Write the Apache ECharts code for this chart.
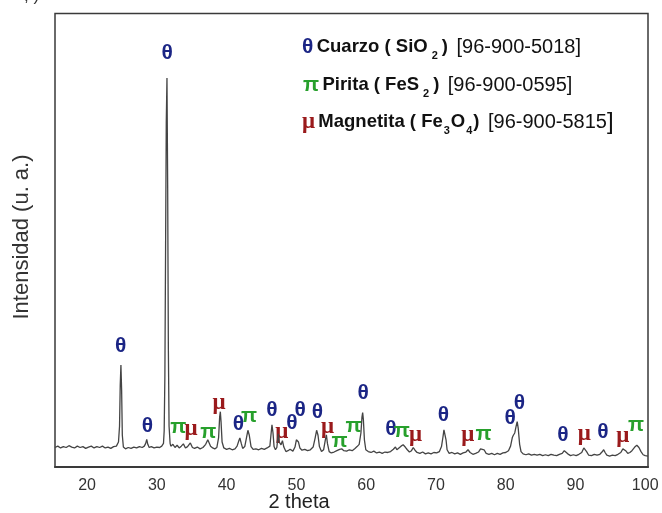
<!DOCTYPE html>
<html>
<head>
<meta charset="utf-8">
<script src="https://cdn.jsdelivr.net/npm/echarts@6/dist/echarts.min.js"></script>
<style>
    html, body { margin: 0; padding: 0; background: #fff; }
    #chart { width: 662px; height: 513px; }
</style>
</head>
<body>
<div id="chart"></div>
<script>
// 2 theta values of the trace
const twoTheta = [
    15.4, 15.8, 16.2, 16.6, 17.0, 17.4, 17.8, 18.2, 18.6, 19.0, 19.4, 19.8, 20.2, 20.6, 21.0, 21.4, 21.8, 22.2, 22.6, 23.0, 23.4, 23.8, 24.2,
    24.5, 24.65, 24.75, 24.85, 24.95, 25.05, 25.2, 25.5, 25.9, 26.3, 26.7, 27.1, 27.5, 27.9, 28.2, 28.4, 28.55, 28.7, 28.9, 29.2, 29.6, 30.0, 30.4, 30.7,
    30.95, 31.05, 31.15, 31.25, 31.35, 31.45, 31.55, 31.65, 31.75, 31.9, 32.0, 32.3, 32.6, 32.9, 33.2, 33.5, 33.8, 34.1, 34.4, 34.8, 35.1, 35.4, 35.8, 36.2, 36.6,
    37.0, 37.3, 37.5, 37.7, 38.0, 38.3, 38.6, 38.85, 39.0, 39.1, 39.2, 39.35, 39.6, 40.0, 40.4, 40.8, 41.2, 41.5, 41.75, 41.9, 42.1, 42.3, 42.6, 42.85, 43.05, 43.25, 43.5,
    43.8, 44.2, 44.6, 45.0, 45.4, 45.8, 46.2, 46.35, 46.5, 46.65, 46.8, 47.0, 47.2, 47.4, 47.55, 47.8, 48.0, 48.2, 48.5, 48.8, 49.1, 49.5, 49.8, 50.0, 50.15, 50.3, 50.5,
    50.8, 51.2, 51.6, 52.0, 52.4, 52.7, 52.9, 53.1, 53.3, 53.6, 53.9, 54.15, 54.3, 54.45, 54.7, 55.0, 55.4, 55.8, 56.2, 56.5, 56.8, 57.2, 57.6, 58.0, 58.4, 58.7, 59.0,
    59.25, 59.4, 59.5, 59.6, 59.75, 59.95, 60.3, 60.7, 61.1, 61.5, 61.9, 62.3, 62.7, 63.1, 63.5, 63.9, 64.2, 64.4, 64.7, 65.0, 65.3, 65.6, 65.9, 66.2, 66.5, 66.75, 67.0,
    67.3, 67.7, 68.1, 68.5, 68.9, 69.3, 69.7, 70.1, 70.5, 70.8, 71.0, 71.15, 71.3, 71.45, 71.6, 71.9, 72.3, 72.7, 73.1, 73.5, 73.9, 74.3, 74.6, 74.9, 75.3, 75.7, 76.1,
    76.4, 76.65, 76.9, 77.2, 77.6, 78.0, 78.4, 78.8, 79.2, 79.6, 80.0, 80.4, 80.7, 80.95, 81.1, 81.3, 81.5, 81.65, 81.8, 82.0, 82.2, 82.5, 82.9, 83.3, 83.7, 84.1, 84.5,
    84.9, 85.3, 85.7, 86.1, 86.5, 86.9, 87.3, 87.7, 88.1, 88.4, 88.6, 88.9, 89.3, 89.7, 90.1, 90.5, 90.9, 91.2, 91.4, 91.6, 91.9, 92.3, 92.7, 93.1, 93.5, 93.8, 94.05,
    94.25, 94.5, 94.9, 95.3, 95.7, 96.1, 96.5, 96.8, 97.0, 97.2, 97.5, 97.8, 98.1, 98.5, 98.8, 99.1, 99.4, 99.7, 100.0, 100.4
];
// intensity (arbitrary units, 0-100 of the plot height)
const intensity = [
    4.3, 4.6, 4.2, 4.5, 4.3, 4.7, 4.4, 4.2, 4.6, 4.3, 4.5, 4.1, 4.4, 4.6, 4.2, 4.5, 4.3, 4.6, 4.2, 4.4, 4.1, 4.5, 4.6,
    5.5, 9, 18, 22.5, 17, 7, 4.4, 4.0, 4.3, 4.1, 4.4, 4.2, 4.5, 4.3, 4.6, 5.2, 6.1, 5.0, 4.3, 4.5, 4.2, 4.4, 4.3, 4.6,
    5.2, 8, 20, 48, 76, 85.8, 62, 26, 9, 5.2, 4.6, 5.0, 4.3, 4.8, 4.2, 4.6, 5.1, 4.2, 4.5, 5.3, 4.3, 4.1, 4.4, 4.0, 4.3,
    5.0, 6.0, 5.8, 4.6, 4.2, 4.0, 4.3, 6.5, 11, 12.2, 10, 5.5, 4.2, 3.9, 4.1, 3.8, 4.0, 4.6, 5.8, 6.4, 5.2, 4.1, 4.5, 6.5, 8.1, 7.0, 4.5,
    3.9, 4.0, 3.8, 4.1, 3.9, 4.2, 4.6, 7, 9.3, 7.5, 4.5, 3.8, 4.3, 7.3, 5.5, 4.9, 5.8, 4.4, 3.4, 3.6, 3.9, 3.5, 4.4, 6.0, 6.4, 5.5, 4.2,
    3.7, 3.9, 3.6, 3.8, 4.4, 6.5, 8.1, 7.0, 4.5, 3.4, 3.8, 6.0, 7.1, 5.2, 3.4, 3.1, 3.3, 3.6, 3.9, 4.0, 3.6, 3.5, 3.8, 3.6, 4.1, 4.5, 5.0,
    7.5, 11, 12.0, 10.5, 6, 3.8, 3.4, 3.2, 3.5, 3.1, 3.3, 3.0, 3.3, 3.2, 3.4, 3.9, 4.4, 3.8, 4.2, 4.6, 4.9, 4.4, 3.8, 3.3, 3.6, 4.3, 3.7,
    3.2, 3.0, 3.3, 2.9, 3.1, 2.9, 3.2, 3.1, 3.4, 4.5, 6.5, 8.2, 8.0, 6.0, 3.8, 3.0, 3.2, 2.9, 3.1, 2.8, 3.1, 3.3, 3.8, 3.2, 2.8, 3.0, 3.3,
    4.0, 4.4, 3.8, 3.0, 2.8, 3.0, 2.7, 3.0, 2.8, 3.1, 3.2, 3.6, 4.6, 6.5, 7.0, 7.5, 9.0, 10.0, 8.5, 5.0, 3.4, 2.9, 2.7, 2.9, 2.6, 2.8, 2.6,
    2.8, 2.5, 2.7, 2.5, 2.8, 2.6, 2.5, 2.8, 3.0, 3.6, 3.5, 2.9, 2.5, 2.7, 2.5, 2.8, 3.2, 4.2, 4.3, 3.4, 2.6, 2.5, 2.8, 2.6, 2.8, 3.3, 3.8,
    3.2, 2.6, 2.4, 2.6, 2.5, 2.8, 3.2, 4.0, 4.1, 3.6, 3.0, 3.2, 3.6, 4.4, 4.8, 4.3, 3.4, 2.7, 2.5, 2.4
];

// phase marks above the peaks
const markX = [24.8, 31.47, 28.65, 33.09, 34.91, 37.39, 38.92, 41.69, 43.23, 46.48, 47.91, 49.35, 50.54, 53.02, 54.45, 56.17,
    58.18, 59.57, 63.54, 65.12, 67.07, 71.08, 74.58, 76.82, 80.65, 81.98, 88.2, 91.26, 93.94, 96.8, 98.67];
const markY = [26.7, 91.3, 9.0, 8.75, 8.3, 7.6, 14.0, 9.4, 11.1, 12.6, 7.8, 9.6, 12.6, 12.0, 8.75, 5.6,
    9.0, 16.25, 8.3, 7.8, 7.06, 11.5, 7.06, 7.2, 10.7, 14.0, 7.06, 7.3, 7.6, 6.8, 9.3];
const markSym = ["θ", "θ", "θ", "π", "μ", "π", "μ", "θ", "π", "θ", "μ", "θ", "θ", "θ", "μ", "π",
    "π", "θ", "θ", "π", "μ", "θ", "μ", "π", "θ", "θ", "θ", "μ", "θ", "μ", "π"];

const xTicks = [20, 30, 40, 50, 60, 70, 80, 90, 100];

const phaseColor = { "θ": "#1b2585", "π": "#27a02c", "μ": "#9a1a1c" };
const font = "'Liberation Sans', Arial, sans-serif";
const serif = "'Liberation Serif', 'DejaVu Serif', serif";
const markSize = { "θ": 21, "π": 21, "μ": 23 };

const trace = twoTheta.map((x, i) => [x, intensity[i]]);
const marks = markX.map((x, i) => ({
    value: [x, markY[i]],
    name: markSym[i],
    label: {
        color: phaseColor[markSym[i]],
        fontFamily: markSym[i] === "μ" ? serif : font,
        fontSize: markSize[markSym[i]],
    },
}));

const legendRich = {
    s1: { fill: phaseColor["θ"], fontSize: 21, fontWeight: "bold", fontFamily: font, lineHeight: 28 },
    s2: { fill: phaseColor["π"], fontSize: 21, fontWeight: "bold", fontFamily: font, lineHeight: 28 },
    s3: { fill: phaseColor["μ"], fontSize: 23, fontWeight: "bold", fontFamily: serif, lineHeight: 28 },
    b: { fill: "#111", fontSize: 18.5, fontWeight: "bold", fontFamily: font, lineHeight: 28 },
    sub: { fill: "#111", fontSize: 11, fontWeight: "bold", fontFamily: font, verticalAlign: "bottom", lineHeight: 13, padding: [0, 4, 0, 4] },
    subt: { fill: "#111", fontSize: 11, fontWeight: "bold", fontFamily: font, verticalAlign: "bottom", lineHeight: 13, padding: [0, 1, 0, 1] },
    n: { fill: "#111", fontSize: 20, fontFamily: font, lineHeight: 28 },
    big: { fill: "#111", fontSize: 24, fontFamily: font, lineHeight: 28 },
};

const chart = echarts.init(document.getElementById("chart"));
chart.setOption({
    animation: false,
    backgroundColor: "#fff",
    grid: {
        left: 55,
        right: 14,
        top: 13.5,
        bottom: 46,
        show: true,
        borderColor: "#3a3a3a",
        borderWidth: 1.5,
    },
    xAxis: {
        type: "value",
        min: 15.4,
        max: 100.4,
        axisLine: { show: true, lineStyle: { color: "#3a3a3a", width: 2 } },
        axisTick: { show: false },
        splitLine: { show: false },
        axisLabel: {
            customValues: xTicks,
            fontSize: 16,
            color: "#333",
            fontFamily: font,
            margin: 11,
        },
    },
    yAxis: {
        type: "value",
        min: 0,
        max: 100,
        axisLine: { show: false },
        axisTick: { show: false },
        splitLine: { show: false },
        axisLabel: { show: false },
    },
    series: [
        {
            type: "line",
            data: trace,
            symbol: "none",
            lineStyle: { color: "#444", width: 1.3 },
        },
        {
            type: "scatter",
            data: marks,
            symbolSize: 1,
            itemStyle: { color: "transparent", opacity: 1 },
            label: {
                show: true,
                position: "inside",
                formatter: "{b}",
                fontWeight: "bold",
            },
        },
    ],
    graphic: [
        {
            type: "text",
            left: 24,
            top: -12,
            style: { text: ", )", fontSize: 17, fontFamily: font, fill: "#333" },
        },
        {
            type: "text",
            x: 22,
            y: 237,
            rotation: Math.PI / 2,
            style: {
                text: "Intensidad (u. a.)",
                fontSize: 22,
                fontFamily: font,
                fill: "#333",
                align: "center",
                verticalAlign: "middle",
            },
        },
        {
            type: "text",
            x: 299,
            y: 502,
            style: {
                text: "2 theta",
                fontSize: 20,
                fontFamily: font,
                fill: "#222",
                align: "center",
                verticalAlign: "middle",
            },
        },
        {
            type: "text",
            x: 302,
            y: 47,
            style: {
                text: "{s1|θ} {b|Cuarzo ( SiO}{sub|2}{b|) } {n|[96-900-5018]}",
                rich: legendRich,
                verticalAlign: "middle",
            },
        },
        {
            type: "text",
            x: 303,
            y: 85,
            style: {
                text: "{s2|π} {b|Pirita ( FeS}{sub|2}{b|) } {n|[96-900-0595]}",
                rich: legendRich,
                verticalAlign: "middle",
            },
        },
        {
            type: "text",
            x: 302,
            y: 122,
            style: {
                text: "{s3|μ} {b|Magnetita ( Fe}{subt|3}{b|O}{subt|4}{b|) } {n|[96-900-5815}{big|]}",
                rich: legendRich,
                verticalAlign: "middle",
            },
        },
    ],
});
</script>
</body>
</html>
